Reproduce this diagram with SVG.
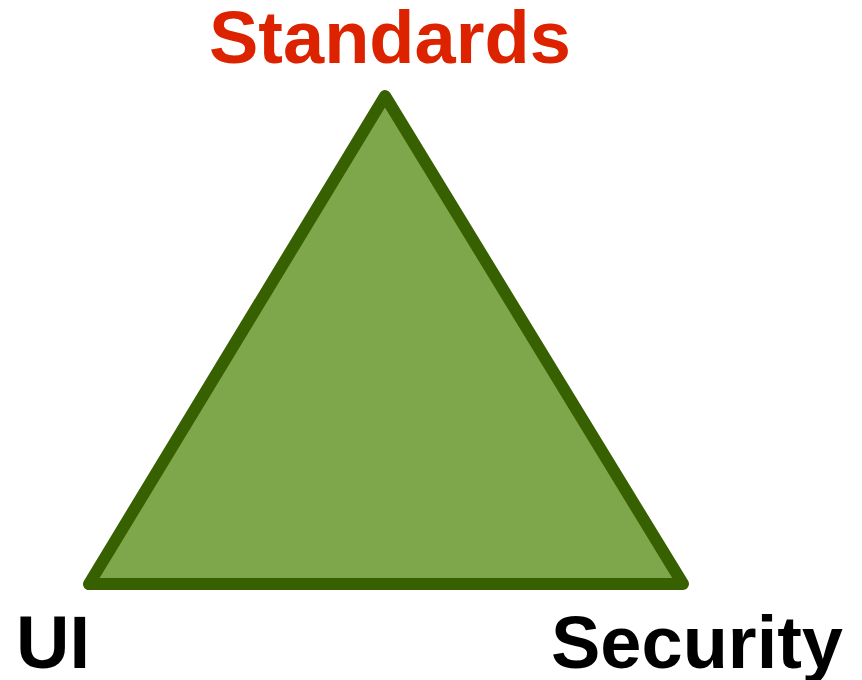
<svg xmlns="http://www.w3.org/2000/svg" width="862" height="680" viewBox="0 0 862 680">
<style>
.lbl{font-family:"Liberation Sans",Arial,sans-serif;font-weight:bold;font-size:74px}
</style>
<rect width="862" height="680" fill="#ffffff"/>
<g id="triangle">
<polygon points="385,96 89,584 683,584" fill="#7ea64a" stroke="#376100" stroke-width="12" stroke-linejoin="round"/>
</g>
<g id="standards"><text class="lbl" x="209" y="63" fill="#dd2200">Standards</text></g>
<g id="ui"><text class="lbl" x="16" y="668" fill="#000000">UI</text></g>
<g id="security"><text class="lbl" x="551" y="668" fill="#000000">Security</text></g>
<g id="connectors"></g>
</svg>
